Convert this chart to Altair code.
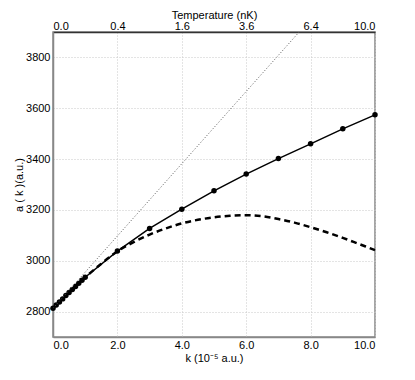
import altair as alt
import pandas as pd

# Solid curve with markers
k_solid = [0.0, 0.1, 0.2, 0.3, 0.4, 0.5, 0.6, 0.7, 0.8, 0.9, 1.0,
           2.0, 3.0, 4.0, 5.0, 6.0, 7.0, 8.0, 9.0, 10.0]
a_solid = [2813, 2826, 2838, 2850, 2863, 2875, 2887, 2899, 2911, 2923, 2935,
           3038, 3127, 3203, 3275, 3341, 3402, 3460, 3519, 3574]

# Dashed curve
k_dash = [0, 0.5, 1, 1.5, 2, 2.5, 3, 3.5, 4, 4.5, 5, 5.5, 6, 6.5, 7, 7.5,
          8, 8.5, 9, 9.5, 10]
a_dash = [2813, 2876, 2935, 2988, 3037, 3073, 3103, 3127, 3147, 3161, 3171,
          3177, 3179, 3175, 3164, 3150, 3132, 3112, 3090, 3066, 3042]

# Dotted straight line (endpoints)
k_dot = [0.0, 10.0]
a_dot = [2813, 4235]

x_ticks = [0, 2, 4, 6, 8, 10]
temp_labels = ["0.0", "0.4", "1.6", "3.6", "6.4", "10.0"]
y_ticks = [2800, 3000, 3200, 3400, 3600, 3800]

df_solid = pd.DataFrame({"k": k_solid, "a": a_solid})
df_dash = pd.DataFrame({"k": k_dash, "a": a_dash})
df_dot = pd.DataFrame({"k": k_dot, "a": a_dot})

FONT = "Liberation Sans"
xscale = alt.Scale(domain=[0, 10], nice=False, zero=False)
yscale = alt.Scale(domain=[2700, 3900], nice=False, zero=False)

bottom_axis = alt.Axis(
    orient="bottom", values=x_ticks, format=".1f", ticks=False,
    grid=True, gridDash=[1, 2], gridColor="#c8c8c8",
    domainColor="#888888", domainWidth=1.5,
    labelFont=FONT, labelFontSize=11, labelColor="#000", labelPadding=2,
    title="k (10⁻⁵ a.u.)", titleFont=FONT, titleFontSize=11,
    titleFontWeight="normal", titleColor="#000", titlePadding=2,
)
yaxis = alt.Axis(
    values=y_ticks, format="d", ticks=False,
    grid=True, gridDash=[1, 2], gridColor="#c8c8c8",
    domainColor="#888888", domainWidth=1.5,
    labelFont=FONT, labelFontSize=11, labelColor="#000", labelPadding=3,
    title="a ( k )(a.u.)", titleFont=FONT, titleFontSize=11,
    titleFontWeight="normal", titleColor="#000", titlePadding=1,
)
label_list = "[" + ",".join("'%s'" % s for s in temp_labels) + "]"
top_axis = alt.Axis(
    orient="top", values=x_ticks, ticks=False, grid=False,
    labelExpr=label_list + "[round(datum.value/2)]",
    domainColor="#333333", domainWidth=1.5,
    labelFont=FONT, labelFontSize=11, labelColor="#000", labelPadding=1,
    title="Temperature (nK)", titleFont=FONT, titleFontSize=11,
    titleFontWeight="normal", titleColor="#000", titlePadding=0,
)

solid_line = alt.Chart(df_solid).mark_line(color="black", strokeWidth=1.5).encode(
    x=alt.X("k:Q", scale=xscale, axis=bottom_axis),
    y=alt.Y("a:Q", scale=yscale, axis=yaxis),
)
solid_pts = alt.Chart(df_solid).mark_circle(color="black", size=30, opacity=1).encode(
    x=alt.X("k:Q", scale=xscale, axis=None),
    y=alt.Y("a:Q", scale=yscale, axis=None),
)
dash_line = alt.Chart(df_dash).mark_line(
    color="black", strokeWidth=2.5, strokeDash=[6, 4], interpolate="monotone"
).encode(
    x=alt.X("k:Q", scale=xscale, axis=None),
    y=alt.Y("a:Q", scale=yscale, axis=None),
)
dot_line = alt.Chart(df_dot).mark_line(
    color="#555555", strokeWidth=1, strokeDash=[1, 2], clip=True
).encode(
    x=alt.X("k:Q", scale=xscale, axis=top_axis),
    y=alt.Y("a:Q", scale=yscale, axis=None),
)

chart = alt.layer(solid_line, dash_line, solid_pts, dot_line).resolve_axis(
    x="independent", y="independent"
).properties(
    width=322, height=305,
    autosize=alt.AutoSizeParams(type="none"),
    padding={"left": 45, "top": 24, "right": 30, "bottom": 30},
).configure_view(stroke="#888888", strokeWidth=1.5)

chart.save("out.html", embed_options={"renderer": "svg", "actions": False})
